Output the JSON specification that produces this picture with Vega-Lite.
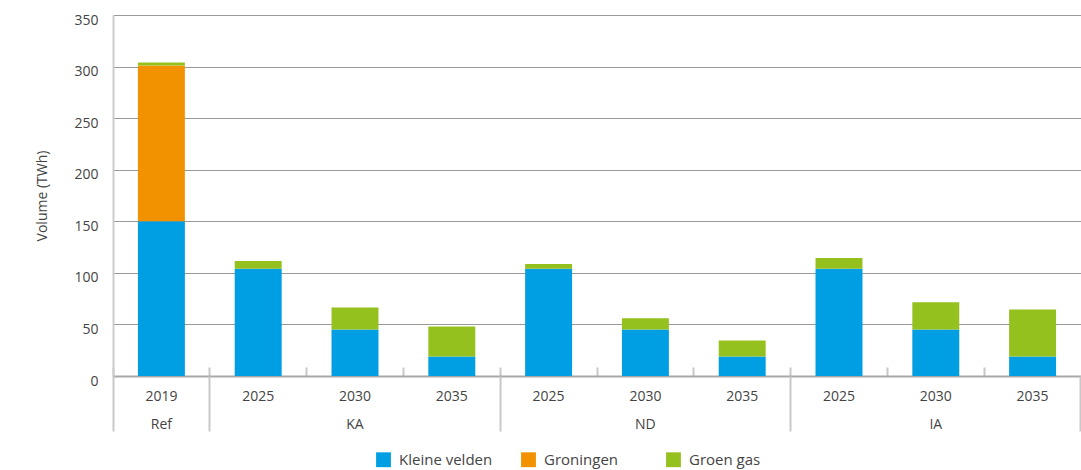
{
  "$schema": "https://vega.github.io/schema/vega-lite/v6.json",
  "autosize": {"type": "none"},
  "width": 968,
  "height": 361,
  "padding": {"left": 113, "top": 15, "right": 0, "bottom": 94},
  "config": {
    "font": "Open Sans",
    "view": {"stroke": null},
    "axis": {"labelFont": "Open Sans", "titleFont": "Open Sans"}
  },
  "data": {
    "values": [
      {"key": "Ref-2019", "series": "Kleine velden", "value": 150},
      {"key": "Ref-2019", "series": "Groningen", "value": 151},
      {"key": "Ref-2019", "series": "Groen gas", "value": 3},
      {"key": "KA-2025", "series": "Kleine velden", "value": 104},
      {"key": "KA-2025", "series": "Groen gas", "value": 7.5},
      {"key": "KA-2030", "series": "Kleine velden", "value": 45},
      {"key": "KA-2030", "series": "Groen gas", "value": 21.5},
      {"key": "KA-2035", "series": "Kleine velden", "value": 19},
      {"key": "KA-2035", "series": "Groen gas", "value": 29},
      {"key": "ND-2025", "series": "Kleine velden", "value": 104},
      {"key": "ND-2025", "series": "Groen gas", "value": 4.5},
      {"key": "ND-2030", "series": "Kleine velden", "value": 45},
      {"key": "ND-2030", "series": "Groen gas", "value": 11},
      {"key": "ND-2035", "series": "Kleine velden", "value": 19},
      {"key": "ND-2035", "series": "Groen gas", "value": 15.5},
      {"key": "IA-2025", "series": "Kleine velden", "value": 104},
      {"key": "IA-2025", "series": "Groen gas", "value": 10.5},
      {"key": "IA-2030", "series": "Kleine velden", "value": 45},
      {"key": "IA-2030", "series": "Groen gas", "value": 26.5},
      {"key": "IA-2035", "series": "Kleine velden", "value": 19},
      {"key": "IA-2035", "series": "Groen gas", "value": 45.5}
    ]
  },
  "layer": [
    {
      "mark": {"type": "bar", "width": {"band": 0.485}},
      "encoding": {
        "x": {
          "field": "key",
          "type": "nominal",
          "sort": null,
          "scale": {"paddingInner": 0, "paddingOuter": 0},
          "axis": {
            "orient": "bottom",
            "title": null,
            "labelAngle": 0,
            "labelExpr": "[split(datum.value,'-')[1], (split(datum.value,'-')[1]=='2030' || split(datum.value,'-')[0]=='Ref') ? split(datum.value,'-')[0] : '']",
            "labelFontSize": 14,
            "labelColor": "#444444",
            "labelPadding": 22,
            "labelLineHeight": 28,
            "bandPosition": 0,
            "ticks": true,
            "tickSize": -9,
            "tickWidth": 2,
            "tickColor": "#c8c8c8",
            "domain": true,
            "domainColor": "#a8a8a8",
            "domainWidth": 2,
            "grid": false
          }
        },
        "y": {
          "field": "value",
          "type": "quantitative",
          "stack": "zero",
          "scale": {"domain": [0, 350]},
          "axis": {
            "title": "Volume (TWh)",
            "titleFontSize": 14,
            "titleFontWeight": "normal",
            "titleColor": "#444444",
            "titlePadding": 24,
            "values": [0, 50, 100, 150, 200, 250, 300, 350],
            "labelFontSize": 14,
            "labelColor": "#444444",
            "labelPadding": 15,
            "labelOffset": 5,
            "ticks": false,
            "domain": true,
            "domainColor": "#cccccc",
            "domainWidth": 2,
            "grid": true,
            "gridColor": "#999999",
            "gridWidth": 1
          }
        },
        "color": {
          "field": "series",
          "type": "nominal",
          "scale": {
            "domain": ["Kleine velden", "Groningen", "Groen gas"],
            "range": ["#009fe3", "#f39200", "#95c11f"]
          },
          "legend": {
            "title": null,
            "orient": "none",
            "legendX": 263,
            "legendY": 437,
            "direction": "horizontal",
            "columns": 3,
            "gridAlign": "all",
            "columnPadding": 28,
            "symbolType": "square",
            "symbolSize": 220,
            "symbolStrokeWidth": 0,
            "labelFontSize": 15,
            "labelColor": "#444444",
            "labelOffset": 8
          }
        },
        "order": {"field": "series", "sort": "descending"}
      }
    },
    {
      "mark": {"type": "point", "opacity": 0},
      "encoding": {
        "x": {
          "field": "key",
          "type": "nominal",
          "sort": null,
          "axis": {
            "orient": "bottom",
            "title": null,
            "labels": false,
            "domain": false,
            "grid": false,
            "values": ["Ref-2019", "KA-2035", "ND-2035", "IA-2035"],
            "bandPosition": 1,
            "tickExtra": true,
            "ticks": true,
            "tickSize": 55,
            "tickWidth": 2,
            "tickColor": "#c8c8c8"
          }
        }
      }
    }
  ],
  "resolve": {"axis": {"x": "independent"}}
}
